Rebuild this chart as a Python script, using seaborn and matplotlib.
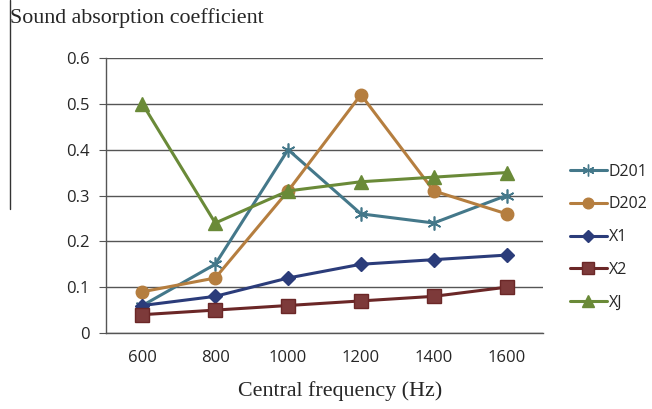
import matplotlib
matplotlib.use("Agg")
import matplotlib.pyplot as plt
import seaborn as sns
import pandas as pd
from matplotlib.lines import Line2D

freqs = ["600", "800", "1000", "1200", "1400", "1600"]
d201 = [0.06, 0.15, 0.40, 0.26, 0.24, 0.30]
d202 = [0.09, 0.12, 0.31, 0.52, 0.31, 0.26]
x1 = [0.06, 0.08, 0.12, 0.15, 0.16, 0.17]
x2 = [0.04, 0.05, 0.06, 0.07, 0.08, 0.10]
xj = [0.50, 0.24, 0.31, 0.33, 0.34, 0.35]
series_names = ["D201", "D202", "X1", "X2", "XJ"]
y_ticks = [0, 0.1, 0.2, 0.3, 0.4, 0.5, 0.6]
y_labels = ["0", "0.1", "0.2", "0.3", "0.4", "0.5", "0.6"]

rows = []
for name, vals in zip(series_names, [d201, d202, x1, x2, xj]):
    for f, v in zip(freqs, vals):
        rows.append({"freq": f, "value": v, "series": name})
df = pd.DataFrame(rows)

sns.set_style("white")
plt.rcParams["font.family"] = ["Open Sans", "DejaVu Sans"]

colors = {"D201": "#44788a", "D202": "#b57e3f", "X1": "#2b3c7a",
          "X2": "#6b2727", "XJ": "#6a8a38"}
markers = {"D201": (6, 2, 0), "D202": "o", "X1": "D", "X2": "s", "XJ": "^"}
msizes = {"D201": 10, "D202": 9, "X1": 7, "X2": 10, "XJ": 10}
mfc = {"D201": "none", "D202": "#b57e3f", "X1": "#2b3c7a", "X2": "#7d3a3a", "XJ": "#6a8a38"}

fig = plt.figure(figsize=(6.52, 4.09), dpi=100)
ax = fig.add_axes([0.1626, 0.1858, 0.8328 - 0.1626, 0.8582 - 0.1858])

for name in series_names:
    sub = df[df["series"] == name]
    sns.lineplot(data=sub, x="freq", y="value", ax=ax, color=colors[name],
                 linewidth=2.2, marker=markers[name], markersize=msizes[name],
                 markerfacecolor=mfc[name], markeredgecolor=colors[name],
                 markeredgewidth=1.0 if name != "D201" else 1.2,
                 sort=False, label=name, legend=False)

ax.set_xlim(-0.5, 5.5)
ax.set_ylim(0, 0.6)
ax.set_yticks(y_ticks)
ax.set_yticklabels(y_labels)
ax.yaxis.grid(True, color="#555555", linewidth=1.0)
ax.set_axisbelow(True)
for s in ["top", "right"]:
    ax.spines[s].set_visible(False)
ax.spines["left"].set_color("#555555")
ax.spines["bottom"].set_color("#555555")
ax.spines["left"].set_linewidth(1.0)
ax.spines["bottom"].set_linewidth(1.0)
ax.tick_params(axis="y", which="both", left=True, length=5, color="#555555",
               labelsize=12, pad=7)
ax.tick_params(axis="x", bottom=False, labelsize=12, pad=9)
ax.set_xlabel("")
ax.set_ylabel("")

fig.text(0.522, 0.045, "Central frequency (Hz)", ha="center", va="center",
         fontsize=15.8, family=["Liberation Serif", "DejaVu Serif"])
fig.text(0.015, 0.955, "Sound absorption coefficient", ha="left", va="center",
         fontsize=15.8, family=["Liberation Serif", "DejaVu Serif"])
fig.add_artist(Line2D([0.016, 0.016], [1.0, 0.49], color="#333333", linewidth=1.0))

handles = [Line2D([0], [0], color=colors[n], linewidth=2.2, marker=markers[n],
                  markersize=msizes[n] * 0.85, markerfacecolor=mfc[n],
                  markeredgecolor=colors[n]) for n in series_names]
fig.legend(handles, series_names, loc="center left", bbox_to_anchor=(0.874, 0.42),
           frameon=False, fontsize=11.5, labelspacing=1.05, handlelength=2.3,
           handletextpad=0.15, borderaxespad=0, borderpad=0)

fig.savefig("out.png", dpi=100)
